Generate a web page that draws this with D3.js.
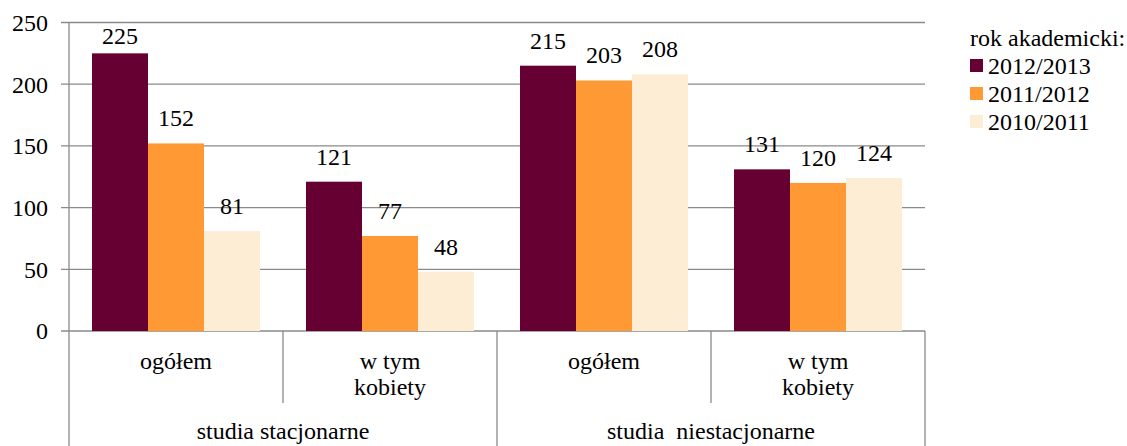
<!DOCTYPE html>
<html>
<head>
<meta charset="utf-8">
<script src="https://cdn.jsdelivr.net/npm/d3@7"></script>
<style>
  body { margin: 0; background: #fff; }
  svg text { font-family: "Liberation Serif", "Times New Roman", serif; font-size: 24px; fill: #000; }
</style>
</head>
<body>
<svg id="chart" width="1127" height="446"></svg>
<script>
// data
var groups = ["studia stacjonarne", "studia  niestacjonarne"];
var categories = [["ogółem"], ["w tym", "kobiety"], ["ogółem"], ["w tym", "kobiety"]];
var seriesNames = ["2012/2013", "2011/2012", "2010/2011"];
var s2012 = [225, 121, 215, 131];
var s2011 = [152, 77, 203, 120];
var s2010 = [81, 48, 208, 124];
var yTicks = [0, 50, 100, 150, 200, 250];

var series = [s2012, s2011, s2010];
var colors = ["#660033", "#ff9933", "#fdedd5"];

var plotLeft = 69, plotRight = 925, plotTop = 22.5, plotBottom = 331;
var svg = d3.select("#chart");

var x0 = d3.scaleBand().domain(d3.range(categories.length)).range([plotLeft, plotRight])
  .paddingInner(0.215).paddingOuter(0.1075);
var x1 = d3.scaleBand().domain(d3.range(series.length)).range([0, x0.bandwidth()]);
var y = d3.scaleLinear().domain([0, 250]).range([plotBottom, plotTop]);

// gridlines + y ticks
svg.append("g").selectAll("line").data(yTicks).enter().append("line")
  .attr("x1", plotLeft - 8).attr("x2", plotRight)
  .attr("y1", function(d) { return y(d); }).attr("y2", function(d) { return y(d); })
  .attr("stroke", "#8a8a8a").attr("stroke-width", 1.3);

svg.append("g").selectAll("text").data(yTicks).enter().append("text")
  .attr("x", 48).attr("y", function(d) { return y(d); })
  .attr("dy", "0.35em").attr("text-anchor", "end")
  .text(function(d) { return d; });

// bars
var layer = svg.selectAll(".layer").data(series).enter().append("g")
  .attr("class", "layer")
  .attr("fill", function(d, i) { return colors[i]; });

function cells(d, i) { return d.map(function(v, j) { return {v: v, s: i, c: j}; }); }

layer.selectAll("rect").data(cells)
  .enter().append("rect")
  .attr("x", function(d) { return x0(d.c) + x1(d.s); })
  .attr("y", function(d) { return y(d.v); })
  .attr("width", x1.bandwidth())
  .attr("height", function(d) { return y(0) - y(d.v); });

layer.selectAll("text").data(cells)
  .enter().append("text")
  .attr("x", function(d) { return x0(d.c) + x1(d.s) + x1.bandwidth() / 2; })
  .attr("y", function(d) { return Math.max(y(d.v) - 17, y(250) + 21.5); })
  .attr("text-anchor", "middle")
  .style("fill", "#000")
  .text(function(d) { return d.v; });

// axes
var step = x0.step();
svg.append("line").attr("x1", plotLeft).attr("x2", plotLeft).attr("y1", plotTop).attr("y2", 446)
  .attr("stroke", "#8a8a8a").attr("stroke-width", 1.3);
svg.append("g").selectAll("line").data(d3.range(1, categories.length + 1)).enter().append("line")
  .attr("x1", function(d) { return plotLeft + d * step; }).attr("x2", function(d) { return plotLeft + d * step; })
  .attr("y1", plotBottom).attr("y2", function(d) { return d % 2 === 0 ? 446 : 403; })
  .attr("stroke", "#8a8a8a").attr("stroke-width", 1.3);

var catText = svg.append("g").selectAll("text").data(categories).enter().append("text")
  .attr("text-anchor", "middle");
catText.selectAll("tspan").data(function(d, i) { return d.map(function(t) { return {t: t, i: i}; }); })
  .enter().append("tspan")
  .attr("x", function(d) { return plotLeft + (d.i + 0.5) * step; })
  .attr("y", function(d, k) { return 369 + k * 26; })
  .text(function(d) { return d.t; });

svg.append("g").selectAll("text").data(groups).enter().append("text")
  .attr("x", function(d, i) { return plotLeft + (i * 2 + 1) * step; })
  .attr("y", 439).attr("text-anchor", "middle")
  .style("white-space", "pre")
  .text(function(d) { return d; });

// legend
var lg = svg.append("g").attr("transform", "translate(970,0)");
lg.append("text").attr("x", 0).attr("y", 46).text("rok akademicki:");
var item = lg.selectAll(".item").data(seriesNames).enter().append("g")
  .attr("transform", function(d, i) { return "translate(0," + (74 + i * 28) + ")"; });
item.append("rect").attr("x", 0).attr("y", -15).attr("width", 13).attr("height", 13)
  .attr("fill", function(d, i) { return colors[i]; });
item.append("text").attr("x", 18).attr("y", 0).text(function(d) { return d; });
</script>
</body>
</html>
